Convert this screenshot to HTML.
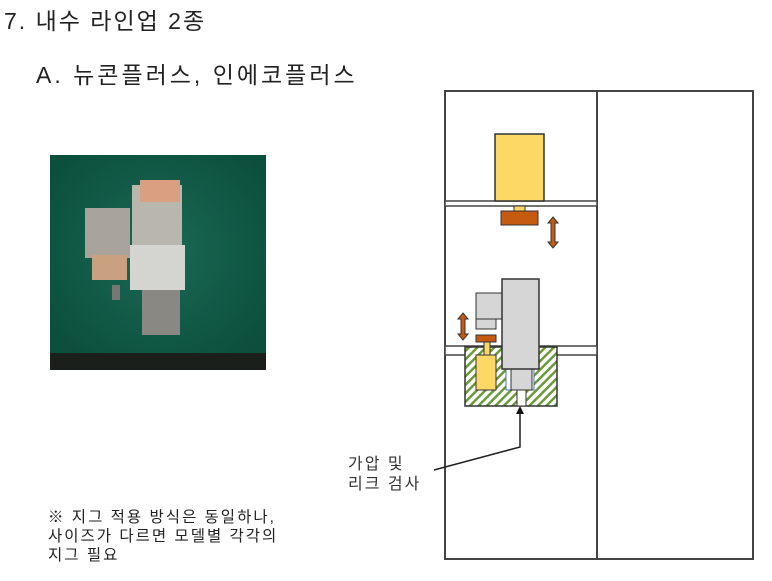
<!DOCTYPE html>
<html><head><meta charset="utf-8"><style>
body{margin:0;width:772px;height:581px;background:#fff;overflow:hidden;position:relative;font-family:"Liberation Sans","Noto Sans CJK KR",sans-serif;color:#222}
.t{position:absolute;white-space:nowrap}
</style></head><body>
<div class="t" style="left:4px;top:2px;font-size:23px;letter-spacing:2px;">7. 내수 라인업 2종</div>
<div class="t" style="left:36px;top:56px;font-size:23px;letter-spacing:3px;">A. 뉴콘플러스, 인에코플러스</div>
<div class="t" style="left:48px;top:508px;font-size:15.5px;line-height:19px;letter-spacing:2px;">※ 지그 적용 방식은 동일하나,<br>사이즈가 다르면 모델별 각각의<br>지그 필요</div>
<div class="t" style="left:348px;top:455px;font-size:16px;line-height:20px;letter-spacing:2px;color:#333">가압 및<br>리크 검사</div>
<svg width="772" height="581" style="position:absolute;left:0;top:0">
<defs>
<pattern id="h" width="6" height="6" patternUnits="userSpaceOnUse" patternTransform="rotate(45)">
<rect width="6" height="6" fill="#fff"/><rect width="2.5" height="6" fill="#6a9a3a"/></pattern>
<radialGradient id="g" cx="0.5" cy="0.45" r="0.6"><stop offset="0" stop-color="#1a6a55"/><stop offset="1" stop-color="#0c4f3d"/></radialGradient>
</defs>
<rect x="50" y="155" width="216" height="215" fill="url(#g)"/>
<rect x="50" y="353" width="216" height="17" fill="#1a1f1c"/>
<rect x="132" y="185" width="50" height="100" fill="#b9b6ae"/>
<rect x="140" y="180" width="40" height="22" fill="#d8a080"/>
<rect x="85" y="208" width="45" height="50" fill="#a8a49c"/>
<rect x="92" y="255" width="35" height="25" fill="#c9a080"/>
<rect x="130" y="245" width="55" height="45" fill="#d4d4d0"/>
<rect x="142" y="290" width="38" height="45" fill="#8a8882"/>
<rect x="112" y="285" width="8" height="15" fill="#777"/>
<g fill="none" stroke="#444" stroke-width="2">
<rect x="445" y="91" width="308" height="468"/>
<line x1="597" y1="91" x2="597" y2="559"/>
</g>
<rect x="445" y="201" width="152" height="5" fill="#fff" stroke="#444" stroke-width="1.5"/>
<rect x="495" y="134" width="49" height="67" fill="#fdd865" stroke="#333" stroke-width="1.5"/>
<rect x="514" y="206" width="11" height="5" fill="#fdd865" stroke="#333"/>
<rect x="501" y="211" width="37" height="14" fill="#c55a11" stroke="#333"/>
<path d="M553 217 L558 223 L555 223 L555 242 L558 242 L553 248 L548 242 L551 242 L551 223 L548 223 Z" fill="#c55a11" stroke="#333"/>
<rect x="445" y="346" width="152" height="9" fill="#fff" stroke="#444" stroke-width="1.5"/>
<rect x="465" y="347" width="92" height="59" fill="url(#h)" stroke="#333" stroke-width="1.5"/>
<rect x="476" y="355" width="20" height="35" fill="#fdd865" stroke="#333"/>
<rect x="484" y="342" width="6" height="13" fill="#fdd865" stroke="#333"/>
<rect x="476" y="335" width="20" height="7" fill="#c55a11" stroke="#333"/>
<rect x="476" y="293" width="26" height="26" fill="#d6d6d6" stroke="#333"/>
<rect x="476" y="319" width="20" height="10" fill="#d6d6d6" stroke="#333"/>
<rect x="506" y="369" width="28" height="21" fill="#fff" stroke="#4472c4"/>
<rect x="511" y="369" width="21" height="21" fill="#d6d6d6" stroke="#333"/>
<rect x="517" y="390" width="9" height="16" fill="#fff" stroke="#333"/>
<rect x="502" y="279" width="37" height="90" fill="#d6d6d6" stroke="#333" stroke-width="1.5"/>
<path d="M463 313 L468 319 L465 319 L465 334 L468 334 L463 340 L458 334 L461 334 L461 319 L458 319 Z" fill="#c55a11" stroke="#333"/>
<polyline points="434,470 520,447 520,412" fill="none" stroke="#222" stroke-width="1.5"/>
<path d="M520 406 L516 414 L524 414 Z" fill="#111"/>
</svg>
</body></html>
